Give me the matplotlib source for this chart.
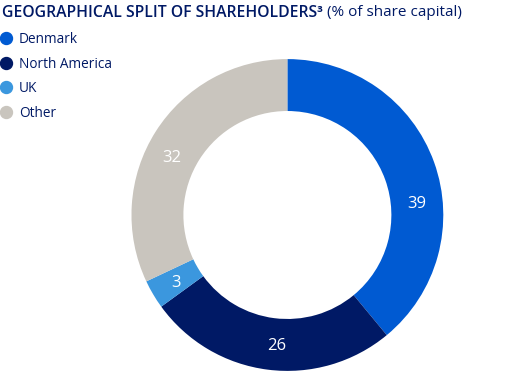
import numpy as np
import matplotlib.pyplot as plt
from matplotlib.lines import Line2D

plt.rcParams["font.family"] = ["Open Sans", "DejaVu Sans"]

REGIONS = ["Denmark", "North America", "UK", "Other"]
SHARES = [39, 26, 3, 32]
COLORS = ["#005ad2", "#001965", "#3b97de", "#c9c5be"]
NAVY = "#001965"
# angular nudge (deg) of each value label away from the wedge middle
LABEL_SHIFT = [-14, 2.5, 0, 5.5]


def main():
    fig = plt.figure(figsize=(5.12, 3.71), dpi=100)

    # donut
    ax = fig.add_axes([0.2568, 0.0, 0.609, 0.841])
    wedges, _ = ax.pie(
        SHARES,
        colors=COLORS,
        startangle=90,
        counterclock=False,
        radius=1.0,
        wedgeprops=dict(width=0.333, edgecolor="none"),
    )
    for w, val, shift in zip(wedges, SHARES, LABEL_SHIFT):
        ang = np.deg2rad((w.theta1 + w.theta2) / 2 + shift)
        ax.text(0.833 * np.cos(ang), 0.833 * np.sin(ang), str(val),
                color="white", fontsize=12, ha="center", va="center_baseline")
    ax.set_xlim(-1, 1)
    ax.set_ylim(-1, 1)
    ax.set_aspect("equal")

    # title: bold part + regular part
    t1 = fig.text(2 / 512, 1 - 13 / 371, "GEOGRAPHICAL SPLIT OF SHAREHOLDERS³",
                  fontsize=11.3, fontweight="semibold", color=NAVY, va="center", ha="left")
    fig.canvas.draw()
    bb = t1.get_window_extent()
    fig.text((bb.x1 + 4) / 512, 1 - 13 / 371, "(% of share capital)",
             fontsize=11.0, color=NAVY, va="center", ha="left")

    # legend
    handles = [Line2D([], [], marker="o", linestyle="none", markersize=8.6,
                      markerfacecolor=c, markeredgecolor=c) for c in COLORS]
    fig.legend(handles, REGIONS, loc="upper left", bbox_to_anchor=(-0.015, 0.928),
               frameon=False, fontsize=9.8, labelcolor=NAVY, handletextpad=0.35,
               labelspacing=0.7, handlelength=1.2, borderaxespad=0)

    fig.savefig("out.png", dpi=100)


if __name__ == "__main__":
    main()
